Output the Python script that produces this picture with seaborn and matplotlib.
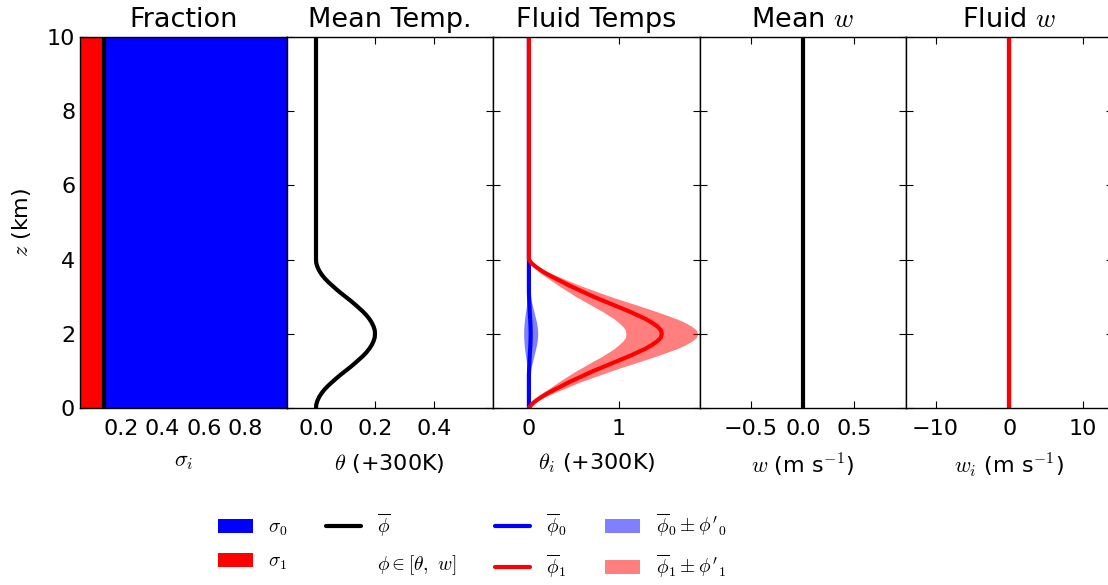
import numpy as np
import pandas as pd
import matplotlib
matplotlib.use("Agg")
import matplotlib.pyplot as plt
from matplotlib.patches import Patch
from matplotlib.lines import Line2D
import seaborn as sns

# ---------------- data ----------------
# height levels (km)
z_profile = [0.0, 0.1, 0.2, 0.3, 0.4, 0.5, 0.6, 0.7, 0.8, 0.9, 1.0,
             1.1, 1.2, 1.3, 1.4, 1.5, 1.6, 1.7, 1.8, 1.9, 2.0,
             2.1, 2.2, 2.3, 2.4, 2.5, 2.6, 2.7, 2.8, 2.9, 3.0,
             3.1, 3.2, 3.3, 3.4, 3.5, 3.6, 3.7, 3.8, 3.9, 4.0, 10.0]
z_column = [0.0, 10.0]

# fractions
sigma_1 = [0.115, 0.115]          # red fluid fraction
sigma_total = [1.0, 1.0]

# mean potential temperature (+300 K)
theta_mean = [0.000, 0.001, 0.005, 0.011, 0.019, 0.029, 0.041, 0.055, 0.069, 0.084, 0.100,
              0.116, 0.131, 0.145, 0.159, 0.171, 0.181, 0.189, 0.195, 0.199, 0.200,
              0.199, 0.195, 0.189, 0.181, 0.171, 0.159, 0.145, 0.131, 0.116, 0.100,
              0.084, 0.069, 0.055, 0.041, 0.029, 0.019, 0.011, 0.005, 0.001, 0.000, 0.000]

# fluid temperatures (+300 K)
theta_0 = [0.000, 0.000, 0.000, 0.000, 0.000, 0.000, 0.000, 0.000, 0.000, 0.000, 0.002,
           0.003, 0.005, 0.007, 0.009, 0.011, 0.014, 0.016, 0.018, 0.019, 0.020,
           0.019, 0.018, 0.016, 0.014, 0.011, 0.009, 0.007, 0.005, 0.003, 0.002,
           0.000, 0.000, 0.000, 0.000, 0.000, 0.000, 0.000, 0.000, 0.000, 0.000, 0.000]
theta_0_spread = [0.000, 0.000, 0.000, 0.000, 0.000, 0.000, 0.000, 0.000, 0.005, 0.010, 0.015,
                  0.022, 0.030, 0.038, 0.046, 0.054, 0.062, 0.069, 0.074, 0.077, 0.078,
                  0.077, 0.074, 0.069, 0.062, 0.054, 0.046, 0.038, 0.030, 0.022, 0.015,
                  0.010, 0.005, 0.000, 0.000, 0.000, 0.000, 0.000, 0.000, 0.000, 0.000, 0.000]
theta_1 = [0.00, 0.03, 0.08, 0.14, 0.21, 0.29, 0.37, 0.45, 0.54, 0.63, 0.72,
           0.82, 0.92, 1.02, 1.12, 1.21, 1.30, 1.37, 1.43, 1.47, 1.48,
           1.47, 1.43, 1.37, 1.30, 1.21, 1.12, 1.02, 0.92, 0.82, 0.72,
           0.63, 0.54, 0.45, 0.37, 0.29, 0.21, 0.14, 0.08, 0.03, 0.00, 0.00]
theta_1_spread = [0.000, 0.010, 0.020, 0.040, 0.060, 0.080, 0.100, 0.120, 0.145, 0.170, 0.195,
                  0.220, 0.250, 0.275, 0.300, 0.325, 0.350, 0.370, 0.385, 0.395, 0.400,
                  0.395, 0.385, 0.370, 0.350, 0.325, 0.300, 0.275, 0.250, 0.220, 0.195,
                  0.170, 0.145, 0.120, 0.100, 0.080, 0.060, 0.040, 0.020, 0.010, 0.000, 0.000]

# vertical velocities (m/s)
w_mean = [0.0, 0.0]
w_0 = [0.0, 0.0]
w_1 = [0.0, 0.0]

titles = ["Fraction", "Mean Temp.", "Fluid Temps", r"Mean $w$", r"Fluid $w$"]
xlabels = [r"$\sigma_i$", r"$\theta$ (+300K)", r"$\theta_i$ (+300K)",
           r"$w$ (m s$^{-1}$)", r"$w_i$ (m s$^{-1}$)"]
xlims = [(0, 1), (-0.1, 0.6), (-0.4, 1.9), (-1, 1), (-14, 14)]
xticks = [[0.2, 0.4, 0.6, 0.8], [0.0, 0.2, 0.4], [0, 1], [-0.5, 0.0, 0.5], [-10, 0, 10]]
xticklabels = [["0.2", "0.4", "0.6", "0.8"], ["0.0", "0.2", "0.4"], ["0", "1"],
               ["\u22120.5", "0.0", "0.5"], ["\u221210", "0", "10"]]
yticks = [0, 2, 4, 6, 8, 10]

legend_labels = [r"$\sigma_0$", r"$\sigma_1$", r"$\overline{\phi}$", r"$\phi \in [\theta,\ w]$",
                 r"$\overline{\phi}_0$", r"$\overline{\phi}_1$",
                 r"$\overline{\phi}_0 \pm {\phi'}_0$", r"$\overline{\phi}_1 \pm {\phi'}_1$"]

# ---------------- style ----------------
sns.set_theme(style="white")
plt.rcParams.update({
    "font.family": ["DejaVu Sans"],
    "mathtext.fontset": "cm",
    "axes.edgecolor": "black",
    "axes.linewidth": 1.0,
    "xtick.direction": "in",
    "ytick.direction": "in",
    "xtick.top": True,
    "xtick.bottom": True,
    "ytick.left": True,
    "ytick.right": True,
    "xtick.major.size": 5,
    "ytick.major.size": 5,
    "xtick.major.width": 0.8,
    "ytick.major.width": 0.8,
    "xtick.color": "black",
    "ytick.color": "black",
    "text.color": "black",
    "axes.labelcolor": "black",
})

fig = plt.figure(figsize=(11.08, 5.85), dpi=100)
left, bottom, width, height = 80 / 1108, 1 - 408 / 585, 206.5 / 1108, (408 - 37) / 585
axes = [fig.add_axes([left + i * width, bottom, width, height]) for i in range(5)]

zp = np.array(z_profile)
zc = np.array(z_column)

# Panel 1: fractions
ax = axes[0]
ax.fill_betweenx(zc, 0, sigma_1, color="#ff0000", lw=0)
ax.fill_betweenx(zc, sigma_1, sigma_total, color="#0000ff", lw=0)
sns.lineplot(x=sigma_1, y=z_column, orient="y", ax=ax, color="black", lw=3)

# Panel 2: mean temperature
sns.lineplot(x=theta_mean, y=z_profile, orient="y", ax=axes[1], color="black", lw=3)

# Panel 3: fluid temperatures
ax = axes[2]
t0 = np.array(theta_0); s0 = np.array(theta_0_spread)
t1 = np.array(theta_1); s1 = np.array(theta_1_spread)
ax.fill_betweenx(zp, t0 - s0, t0 + s0, color="#0000ff", alpha=0.5, lw=0)
ax.fill_betweenx(zp, t1 - s1, t1 + s1, color="#ff0000", alpha=0.5, lw=0)
sns.lineplot(x=theta_0, y=z_profile, orient="y", ax=ax, color="#0000ff", lw=3)
sns.lineplot(x=theta_1, y=z_profile, orient="y", ax=ax, color="#ff0000", lw=3)

# Panel 4: mean w
sns.lineplot(x=w_mean, y=z_column, orient="y", ax=axes[3], color="black", lw=3)

# Panel 5: fluid w
sns.lineplot(x=w_0, y=z_column, orient="y", ax=axes[4], color="#0000ff", lw=3)
sns.lineplot(x=w_1, y=z_column, orient="y", ax=axes[4], color="#ff0000", lw=3)

for i, ax in enumerate(axes):
    ax.set_xlim(*xlims[i])
    ax.set_ylim(0, 10)
    ax.set_xticks(xticks[i])
    ax.set_xticklabels(xticklabels[i], fontsize=16)
    ax.set_yticks(yticks)
    ax.set_title(titles[i], fontsize=19.5, pad=7)
    ax.set_xlabel(xlabels[i], fontsize=16, labelpad=9)
    ax.tick_params(axis="x", pad=8)
    if i == 0:
        ax.set_yticklabels([str(t) for t in yticks], fontsize=16)
        ax.set_ylabel(r"$z$ (km)", fontsize=16, labelpad=10)
    else:
        ax.set_yticklabels([])
        ax.set_ylabel("")
    for sp in ax.spines.values():
        sp.set_visible(True)
        sp.set_color("black")

handles = [
    Patch(facecolor="#0000ff", edgecolor="none"),
    Patch(facecolor="#ff0000", edgecolor="none"),
    Line2D([], [], color="black", lw=3),
    Line2D([], [], color="none", lw=0),
    Line2D([], [], color="#0000ff", lw=3),
    Line2D([], [], color="#ff0000", lw=3),
    Patch(facecolor="#0000ff", alpha=0.5, edgecolor="none"),
    Patch(facecolor="#ff0000", alpha=0.5, edgecolor="none"),
]
fig.legend(handles, legend_labels, ncol=4, frameon=False, fontsize=14,
           loc="center", bbox_to_anchor=(472 / 1108, 1 - 546 / 585),
           handlelength=1.8, handletextpad=0.8, columnspacing=2.0, labelspacing=0.7)

fig.savefig("out.png", dpi=100)
